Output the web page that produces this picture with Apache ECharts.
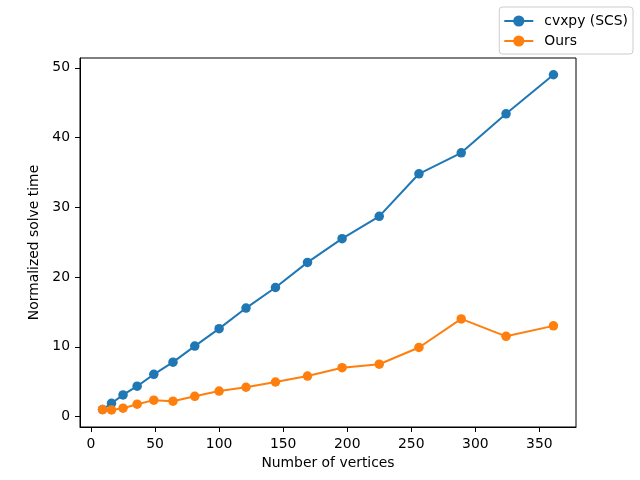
<!DOCTYPE html>
<html>
<head>
<meta charset="utf-8">
<script src="https://cdn.jsdelivr.net/npm/echarts@6/dist/echarts.min.js"></script>
<style>html,body{margin:0;padding:0;background:#fff}#c{width:640px;height:480px}</style>
</head>
<body>
<div id="c"></div>
<script>
var vertices = [9, 16, 25, 36, 49, 64, 81, 100, 121, 144, 169, 196, 225, 256, 289, 324, 361];
var cvxpyTimes = [1.0, 1.9, 3.1, 4.35, 6.05, 7.8, 10.1, 12.6, 15.55, 18.5, 22.1, 25.5, 28.7, 34.8, 37.8, 43.4, 49.0];
var oursTimes = [1.0, 0.95, 1.2, 1.77, 2.35, 2.2, 2.9, 3.65, 4.2, 4.95, 5.8, 7.0, 7.5, 9.9, 14.0, 11.5, 13.0];
var xTicks = [0, 50, 100, 150, 200, 250, 300, 350];
var yTicks = [0, 10, 20, 30, 40, 50];
var seriesNames = ['cvxpy (SCS)', 'Ours'];

function pairs(xs, ys) { return xs.map(function (x, i) { return [x, ys[i]]; }); }

var font = 'DejaVu Sans';
var chart = echarts.init(document.getElementById('c'), null, { renderer: 'canvas' });
chart.setOption({
  animation: false,
  backgroundColor: '#fff',
  textStyle: { fontFamily: font },
  grid: { left: 80, right: 64, top: 58, bottom: 53, show: true, borderColor: '#000', borderWidth: 1, backgroundColor: 'transparent', containLabel: false },
  legend: {
    orient: 'vertical', right: 7, top: 7,
    padding: [7, 5, 6, 4],
    itemGap: 6, itemWidth: 29, itemHeight: 14,
    backgroundColor: 'rgba(255,255,255,0.8)', borderColor: '#cccccc', borderWidth: 1, borderRadius: 3,
    textStyle: { fontFamily: font, fontSize: 13.9, color: '#000', padding: [0, 0, 0, 6] },
    data: seriesNames
  },
  xAxis: {
    type: 'value', min: -8.6, max: 378.6,
    name: 'Number of vertices', nameLocation: 'middle', nameGap: 27,
    nameTextStyle: { fontFamily: font, fontSize: 13.9, color: '#000' },
    axisLine: { show: true, onZero: false, lineStyle: { color: '#000', width: 1 } },
    splitLine: { show: false },
    axisTick: { show: true, inside: false, length: 5, lineStyle: { color: '#000', width: 1 }, customValues: xTicks },
    axisLabel: { margin: 10, fontFamily: font, fontSize: 13.9, color: '#000', customValues: xTicks }
  },
  yAxis: {
    type: 'value', min: -1.5, max: 51.4,
    name: 'Normalized solve time', nameLocation: 'middle', nameGap: 33, nameRotate: 90,
    nameTextStyle: { fontFamily: font, fontSize: 13.9, color: '#000' },
    axisLine: { show: true, onZero: false, lineStyle: { color: '#000', width: 1 } },
    splitLine: { show: false },
    axisTick: { show: true, inside: false, length: 5, lineStyle: { color: '#000', width: 1 }, customValues: yTicks },
    axisLabel: { margin: 10, fontFamily: font, fontSize: 13.9, color: '#000', customValues: yTicks }
  },
  series: [
    {
      name: seriesNames[0], type: 'line', data: pairs(vertices, cvxpyTimes),
      symbol: 'circle', symbolSize: 9.5, color: '#1f77b4',
      lineStyle: { width: 2, color: '#1f77b4' }, itemStyle: { color: '#1f77b4' }
    },
    {
      name: seriesNames[1], type: 'line', data: pairs(vertices, oursTimes),
      symbol: 'circle', symbolSize: 9.5, color: '#ff7f0e',
      lineStyle: { width: 2, color: '#ff7f0e' }, itemStyle: { color: '#ff7f0e' }
    }
  ]
});
</script>
</body>
</html>
